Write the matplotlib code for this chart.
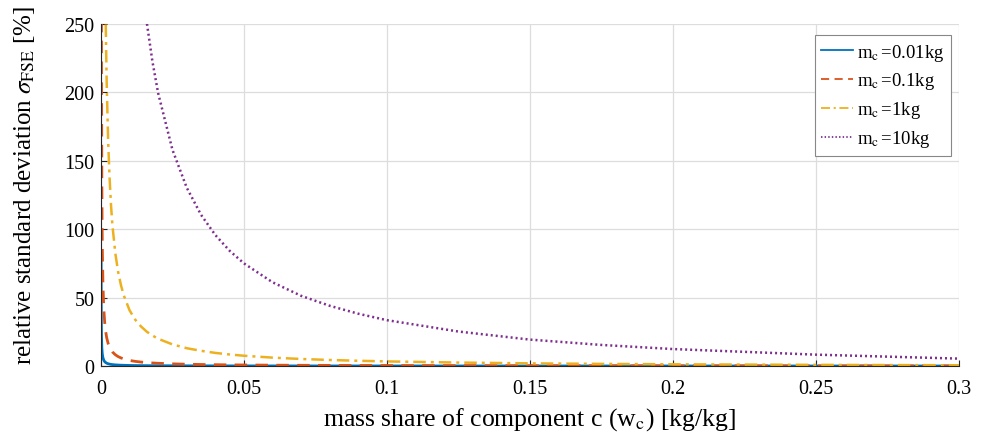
import matplotlib
matplotlib.use("Agg")
import matplotlib.pyplot as plt
from matplotlib.ticker import FormatStrFormatter

plt.rcParams['font.family'] = 'Liberation Serif'
plt.rcParams['mathtext.fontset'] = 'stix'

# mass share w_c [kg/kg]
w_c = [0.00005, 0.0001, 0.00015, 0.0002, 0.0003, 0.0004, 0.0005, 0.0007, 0.001, 0.0013,
       0.0016, 0.002, 0.0025, 0.003, 0.0035, 0.004, 0.005, 0.006, 0.007, 0.008,
       0.01, 0.012, 0.014, 0.016, 0.018, 0.02, 0.025, 0.03, 0.035, 0.04,
       0.045, 0.05, 0.06, 0.07, 0.08, 0.09, 0.1, 0.125, 0.15, 0.175,
       0.2, 0.25, 0.3]

# relative standard deviation sigma_FSE [%]
sigma_001kg = [83.1, 41.5, 27.7, 20.8, 13.8, 10.4, 8.30, 5.93, 4.15, 3.19,
               2.59, 2.07, 1.65, 1.38, 1.18, 1.03, 0.83, 0.69, 0.59, 0.52,
               0.41, 0.34, 0.29, 0.25, 0.22, 0.20, 0.16, 0.13, 0.11, 0.10,
               0.08, 0.075, 0.061, 0.051, 0.044, 0.038, 0.034, 0.025, 0.019, 0.015,
               0.012, 0.008, 0.005]
sigma_01kg = [831, 415, 277, 208, 138, 104, 83.0, 59.3, 41.5, 31.9,
              25.9, 20.7, 16.5, 13.8, 11.8, 10.3, 8.27, 6.88, 5.90, 5.15,
              4.07, 3.38, 2.89, 2.51, 2.23, 1.99, 1.58, 1.30, 1.11, 0.96,
              0.84, 0.75, 0.61, 0.51, 0.44, 0.38, 0.34, 0.25, 0.19, 0.15,
              0.12, 0.08, 0.05]
sigma_1kg = [8310, 4155, 2770, 2077, 1385, 1038, 830, 593, 415, 319,
             259, 207, 165, 138, 118, 103, 82.7, 68.8, 59.0, 51.5,
             40.7, 33.8, 28.9, 25.1, 22.3, 19.9, 15.8, 13.0, 11.1, 9.57,
             8.42, 7.50, 6.12, 5.13, 4.40, 3.82, 3.35, 2.52, 1.93, 1.54,
             1.24, 0.83, 0.54]
sigma_10kg = [83100, 41550, 27700, 20770, 13850, 10380, 8300, 5930, 4150, 3190,
              2590, 2070, 1650, 1380, 1180, 1030, 827, 688, 590, 515,
              407, 338, 288.5, 251.4, 222.5, 199.4, 158.0, 130.3, 110.5, 95.7,
              84.2, 75.0, 61.2, 51.3, 44.0, 38.2, 33.5, 25.2, 19.3, 15.4,
              12.4, 8.3, 5.4]

labels = [r'm$_{\mathrm{c}}\,$=0.01kg', r'm$_{\mathrm{c}}\,$=0.1kg',
          r'm$_{\mathrm{c}}\,$=1kg', r'm$_{\mathrm{c}}\,$=10kg']

fig = plt.figure(figsize=(9.86, 4.39), dpi=100)
ax = fig.add_axes([0.1024, 0.164, 0.8702, 0.779])

ax.plot(w_c, sigma_001kg, color='#0072BD', lw=2.0, ls='-', label=labels[0])
ax.plot(w_c, sigma_01kg, color='#D95319', lw=2.0, ls=(0, (4.5, 3)), label=labels[1])
ax.plot(w_c, sigma_1kg, color='#EDB120', lw=1.8, ls=(0, (5, 2, 1.2, 2)), label=labels[2])
ax.plot(w_c, sigma_10kg, color='#7E2F8E', lw=1.8, ls=(0, (0.8, 1.2)), label=labels[3])

ax.set_xlim(0, 0.3)
ax.set_ylim(0, 250)
ax.set_xticks([0, 0.05, 0.1, 0.15, 0.2, 0.25, 0.3])
ax.set_yticks([0, 50, 100, 150, 200, 250])
ax.xaxis.set_major_formatter(FormatStrFormatter('%g'))
ax.grid(True, color='#dddddd', lw=0.9)
ax.set_axisbelow(True)
for s in ['top', 'right']:
    ax.spines[s].set_visible(False)
for s in ['left', 'bottom']:
    ax.spines[s].set_color('#262626')
    ax.spines[s].set_linewidth(0.8)
ax.tick_params(direction='in', length=4, width=0.8, color='#262626', labelsize=14.5)
ax.tick_params(axis='x', pad=9)
ax.tick_params(axis='y', pad=4.5)

ax.set_xlabel(r'mass share of component c (w$_{\mathrm{c}}$) [kg/kg]', fontsize=18.5)
ax.set_ylabel(r'relative standard deviation $\sigma_{\mathrm{FSE}}$ [%]', fontsize=18)
ax.xaxis.set_label_coords(0.5, -0.115)
ax.yaxis.set_label_coords(-0.0746, 0.53)

leg = ax.legend(loc='upper right', fontsize=13.5, handlelength=1.7, handletextpad=0.2,
                borderpad=0.35, labelspacing=0.42, borderaxespad=0, fancybox=False,
                framealpha=1, bbox_to_anchor=(0.9907, 0.968))
leg.get_frame().set_edgecolor('#888888')
leg.get_frame().set_linewidth(0.8)
for h in leg.get_lines():
    h.set_linewidth(1.3)

fig.savefig('out.png', dpi=100)
